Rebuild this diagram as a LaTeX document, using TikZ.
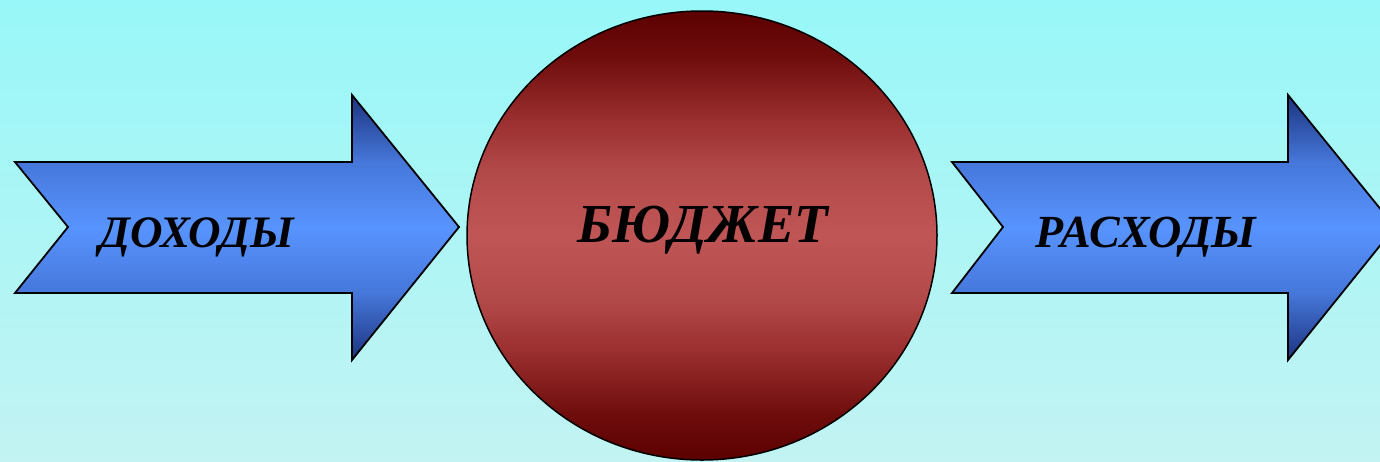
\documentclass[tikz,border=0pt]{standalone}
\usepackage{fontspec}
\setmainfont{Liberation Serif}
\usetikzlibrary{shapes.geometric}
\definecolor{bgtop}{HTML}{98F7F8}
\definecolor{bgbot}{HTML}{C3F3F3}
\definecolor{ardark}{HTML}{1C347F}
\definecolor{armid}{HTML}{4677DA}
\definecolor{arlight}{HTML}{5894FF}
\definecolor{bdark}{HTML}{5C0000}
\definecolor{bdark2}{HTML}{6E0C0C}
\definecolor{bmid}{HTML}{9A2E2E}
\definecolor{bmid2}{HTML}{B34A4A}
\definecolor{blight}{HTML}{C05555}
\pgfdeclareverticalshading{bgshade}{100bp}{color(0bp)=(bgbot); color(25bp)=(bgbot); color(75bp)=(bgtop); color(100bp)=(bgtop)}
\pgfdeclareverticalshading{arrowshade}{100bp}{color(0bp)=(ardark); color(25bp)=(ardark); color(37.6bp)=(armid); color(50bp)=(arlight); color(62.4bp)=(armid); color(75bp)=(ardark); color(100bp)=(ardark)}
\pgfdeclareverticalshading{budgetshade}{100bp}{color(0bp)=(bdark); color(25bp)=(bdark); color(30bp)=(bdark2); color(37bp)=(bmid); color(43bp)=(bmid2); color(50bp)=(blight); color(57bp)=(bmid2); color(63bp)=(bmid); color(70bp)=(bdark2); color(75bp)=(bdark); color(100bp)=(bdark)}
\tikzset{
  arrowshape/.style={draw=black, line width=1.8pt, line join=miter, shading=arrowshade},
  budgetshape/.style={draw=black, line width=1.5pt, ellipse, shading=budgetshade, inner sep=0pt},
  lbl/.style={text=black, inner sep=0pt, anchor=base}
}
\begin{document}
\begin{tikzpicture}[x=1pt,y=-1pt]
\path[shading=bgshade] (0,0) rectangle (1380,461);
\useasboundingbox (0,0) rectangle (1380,461);
% left arrow
\path[arrowshape] (15,162) -- (352,162) -- (352,95) -- (459,227) -- (352,360) -- (352,293) -- (15,293) -- (68,227) -- cycle;
% right arrow
\path[arrowshape] (952,162) -- (1288,162) -- (1288,95) -- (1395,227) -- (1288,360) -- (1288,293) -- (952,293) -- (1003,227) -- cycle;
% budget
\node[budgetshape, minimum width=470pt, minimum height=449pt] (budget) at (702,235.5) {};
\node[lbl, font=\fontsize{45}{50}\selectfont\bfseries\itshape] (income) at (197,247) {ДОХОДЫ};
\node[lbl, font=\fontsize{55}{58}\selectfont\bfseries\itshape] (budgettext) at (703,242) {БЮДЖЕТ};
\node[lbl, font=\fontsize{46}{48}\selectfont\bfseries\itshape] (expense) at (1146,247) {РАСХОДЫ};
\end{tikzpicture}
\end{document}
